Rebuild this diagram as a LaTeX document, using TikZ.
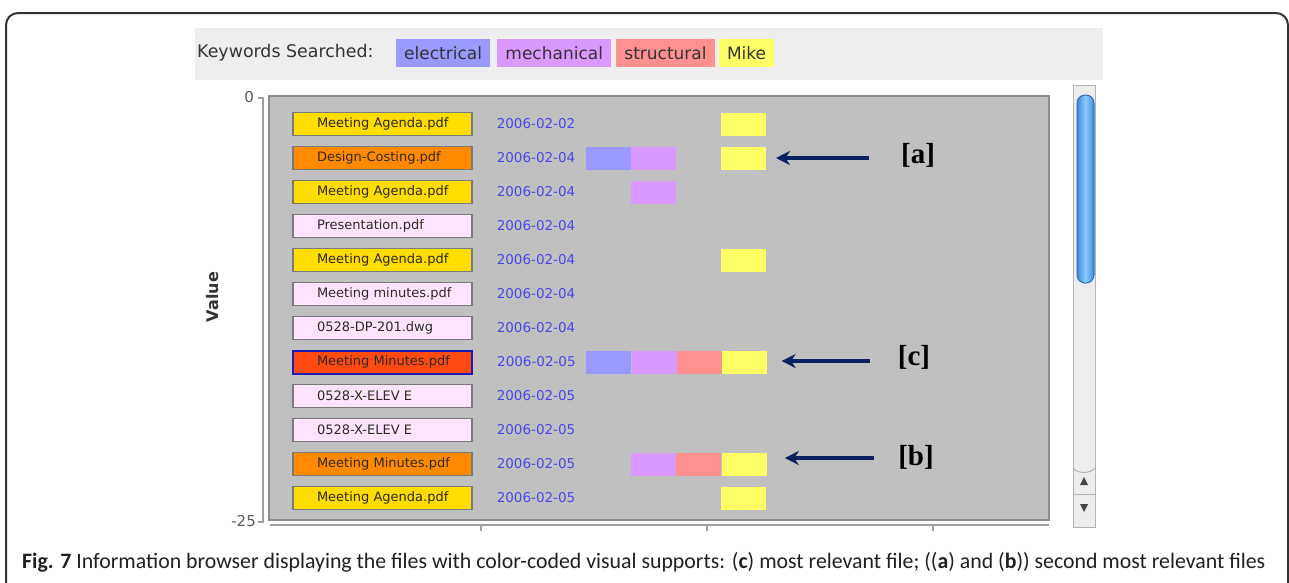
\documentclass[tikz,border=0pt]{standalone}
\usepackage{graphicx}
\usepackage{fontspec}
\setmainfont{DejaVu Sans}
\newfontfamily\capfont{Carlito}
\newfontfamily\tagfont{Liberation Serif}
\usepackage{tikz}
\usetikzlibrary{positioning, arrows.meta}

\definecolor{framegray}{HTML}{333333}
\definecolor{barbg}{HTML}{EEEEEE}
\definecolor{keytext}{HTML}{333333}
\definecolor{kelec}{HTML}{9999FF}
\definecolor{kmech}{HTML}{DA99FF}
\definecolor{kstruct}{HTML}{FF9090}
\definecolor{kmike}{HTML}{FFFF66}
\definecolor{plotgray}{HTML}{C0C0C0}
\definecolor{plotedge}{HTML}{8C8C8C}
\definecolor{axisgray}{HTML}{A0A0A0}
\definecolor{boxedge}{HTML}{7A7A7A}
\definecolor{selectedge}{HTML}{1A1AB4}
\definecolor{fyellow}{HTML}{FFDD00}
\definecolor{forange}{HTML}{FF8A00}
\definecolor{fred}{HTML}{FF4A12}
\definecolor{fpink}{HTML}{FFE4FF}
\definecolor{filetext}{HTML}{2E2A20}
\definecolor{dateblue}{HTML}{4848E8}
\definecolor{navy}{HTML}{0C2260}
\definecolor{trackbg}{HTML}{EDEDED}
\definecolor{trackedge}{HTML}{B4B4B4}
\definecolor{thumbblue}{HTML}{3A88E2}
\definecolor{thumblight}{HTML}{8CCBFA}
\definecolor{captext}{HTML}{231F20}

\tikzstyle{filebox} = [rectangle, draw=boxedge, line width=1.2pt, minimum width=179pt, minimum height=23pt, inner xsep=0pt, inner ysep=0pt, font=\fontsize{13}{13}\selectfont, text=filetext]
\tikzstyle{datetext} = [inner sep=0pt, anchor=west, font=\fontsize{13.5}{13.5}\selectfont, text=dateblue]
\tikzstyle{cell} = [rectangle, minimum width=45pt, minimum height=23pt, inner sep=0pt]
\tikzstyle{keytag} = [rectangle, minimum height=28pt, inner xsep=8pt, inner ysep=0pt, font=\fontsize{17}{17}\selectfont, text=keytext]
\tikzstyle{bracketlabel} = [inner sep=0pt, font=\tagfont\bfseries\fontsize{29}{29}\selectfont, text=black]
\tikzstyle{pointer} = [line width=4.5pt, draw=navy, -{Stealth[length=14pt,width=14pt]}]
\tikzstyle{axisline} = [draw=axisgray, line width=1.2pt]

\newcommand{\fname}[1]{\makebox[131pt][l]{#1}}

\begin{document}
\begin{tikzpicture}[x=1pt, y=-1pt, node distance=34pt]
\useasboundingbox (0,0) rectangle (1289,582);
\clip (0,0) rectangle (1289,582);

% outer frame
\draw[framegray, line width=2pt, rounded corners=12pt] (6,640) -- (6,13) -- (1288,13) -- (1288,640);

% keyword bar
\fill[barbg] (195,28) rectangle (1103,80);
\node (kwlabel) [anchor=west, inner sep=0pt, font=\fontsize{17.4}{17.4}\selectfont, text=keytext] at (197,53) {Keywords Searched:};
\node (ke) [keytag, fill=kelec, anchor=west] at (396,53) {electrical};
\node (km) [keytag, fill=kmech, right=7pt of ke] {mechanical};
\node (ks) [keytag, fill=kstruct, right=5pt of km] {structural};
\node (kk) [keytag, fill=kmike, right=4pt of ks] {Mike};

% plot area and axes
\draw[fill=plotgray, draw=plotedge, line width=1.5pt] (269,96) rectangle (1049,520);
\draw[axisline] (258,98) -- (263,98) -- (263,522) -- (258,522);
\draw[axisline] (270,525) -- (1049,525);
\draw[axisline] (481,525) -- (481,531);
\draw[axisline] (707,525) -- (707,531);
\draw[axisline] (933,525) -- (933,531);
\node (ytop) [anchor=east, inner sep=0pt, font=\fontsize{15}{15}\selectfont, text=keytext!80] at (254,97) {0};
\node (ybot) [anchor=east, inner sep=0pt, font=\fontsize{15}{15}\selectfont, text=keytext!80] at (256,521) {-25};
\node (yname) [rotate=90, inner sep=0pt, font=\bfseries\fontsize{16}{16}\selectfont, text=keytext] at (213,297) {Value};

% file rows
\node (f1) [filebox, fill=fyellow] at (382.5,124) {\fname{Meeting Agenda.pdf}};

\node (f2) [filebox, fill=forange, below of=f1] {\fname{Design-Costing.pdf}};

\node (f3) [filebox, fill=fyellow, below of=f2] {\fname{Meeting Agenda.pdf}};

\node (f4) [filebox, fill=fpink, below of=f3] {\fname{Presentation.pdf}};

\node (f5) [filebox, fill=fyellow, below of=f4] {\fname{Meeting Agenda.pdf}};

\node (f6) [filebox, fill=fpink, below of=f5] {\fname{Meeting minutes.pdf}};

\node (f7) [filebox, fill=fpink, below of=f6] {\fname{0528-DP-201.dwg}};

\node (f8) [filebox, fill=fred, draw=selectedge, line width=2pt, below of=f7] {\fname{Meeting Minutes.pdf}};

\node (f9) [filebox, fill=fpink, below of=f8] {\fname{0528-X-ELEV E}};

\node (f10) [filebox, fill=fpink, below of=f9] {\fname{0528-X-ELEV E}};

\node (f11) [filebox, fill=forange, below of=f10] {\fname{Meeting Minutes.pdf}};

\node (f12) [filebox, fill=fyellow, below of=f11] {\fname{Meeting Agenda.pdf}};

% dates
\node (d1) [datetext, right=24pt of f1] {2006-02-02};
\node (d2) [datetext, right=24pt of f2] {2006-02-04};
\node (d3) [datetext, right=24pt of f3] {2006-02-04};
\node (d4) [datetext, right=24pt of f4] {2006-02-04};
\node (d5) [datetext, right=24pt of f5] {2006-02-04};
\node (d6) [datetext, right=24pt of f6] {2006-02-04};
\node (d7) [datetext, right=24pt of f7] {2006-02-04};
\node (d8) [datetext, right=24pt of f8] {2006-02-05};
\node (d9) [datetext, right=24pt of f9] {2006-02-05};
\node (d10) [datetext, right=24pt of f10] {2006-02-05};
\node (d11) [datetext, right=24pt of f11] {2006-02-05};
\node (d12) [datetext, right=24pt of f12] {2006-02-05};

% keyword hits
\node (m1) [cell, fill=kmike, right=248pt of f1] {};

\node (e2) [cell, fill=kelec, right=113pt of f2] {};
\node (c2) [cell, fill=kmech, right=0pt of e2] {};
\node (m2) [cell, fill=kmike, right=248pt of f2] {};

\node (c3) [cell, fill=kmech, right=158pt of f3] {};

\node (m5) [cell, fill=kmike, right=248pt of f5] {};

\node (e8) [cell, fill=kelec, right=113pt of f8] {};
\node (c8) [cell, fill=kmech, right=0pt of e8] {};
\node (s8) [cell, fill=kstruct, right=0pt of c8] {};
\node (m8) [cell, fill=kmike, right=0pt of s8] {};

\node (c11) [cell, fill=kmech, right=158pt of f11] {};
\node (s11) [cell, fill=kstruct, right=0pt of c11] {};
\node (m11) [cell, fill=kmike, right=0pt of s11] {};

\node (m12) [cell, fill=kmike, right=248pt of f12] {};

% callouts
\node (la) [bracketlabel] at (918,155) {[a]};
\node (lc) [bracketlabel] at (914,357) {[c]};
\node (lb) [bracketlabel] at (916,457) {[b]};

\draw [pointer, shorten <=32pt, shorten >=10pt] ([yshift=-3pt]la.west) -- ([yshift=-3pt]la.west -| m2.east);
\draw [pointer, shorten <=28pt, shorten >=14pt] ([yshift=-4pt]lc.west) -- ([yshift=-4pt]lc.west -| m8.east);
\draw [pointer, shorten <=24pt, shorten >=18pt] ([yshift=-1pt]lb.west) -- ([yshift=-1pt]lb.west -| m11.east);

% scrollbar
\draw[fill=trackbg, draw=trackedge, line width=1pt] (1073,85) rectangle (1095,527);
\draw[trackedge, line width=1pt] (1073,468) .. controls (1078,474) and (1090,474) .. (1095,468);
\draw[trackedge, line width=1pt] (1073,494) -- (1095,494);
\draw[draw=thumbblue!80!black, line width=1pt, rounded corners=8pt, left color=thumbblue, right color=thumbblue, middle color=thumblight] (1077,95) rectangle (1094,283);
\fill[keytext!90] (1080,485) -- (1088,485) -- (1084,477) -- cycle;
\fill[keytext!90] (1080,504) -- (1088,504) -- (1084,512) -- cycle;

% caption
\node (cap) [anchor=base west, inner sep=0pt, text=captext] at (22,568) {\resizebox{1243pt}{\height}{\capfont\fontsize{22}{22}\selectfont\textbf{Fig. 7} Information browser displaying the files with color-coded visual supports: (\textbf{c}) most relevant file; ((\textbf{a}) and (\textbf{b})) second most relevant files}};

\end{tikzpicture}
\end{document}
